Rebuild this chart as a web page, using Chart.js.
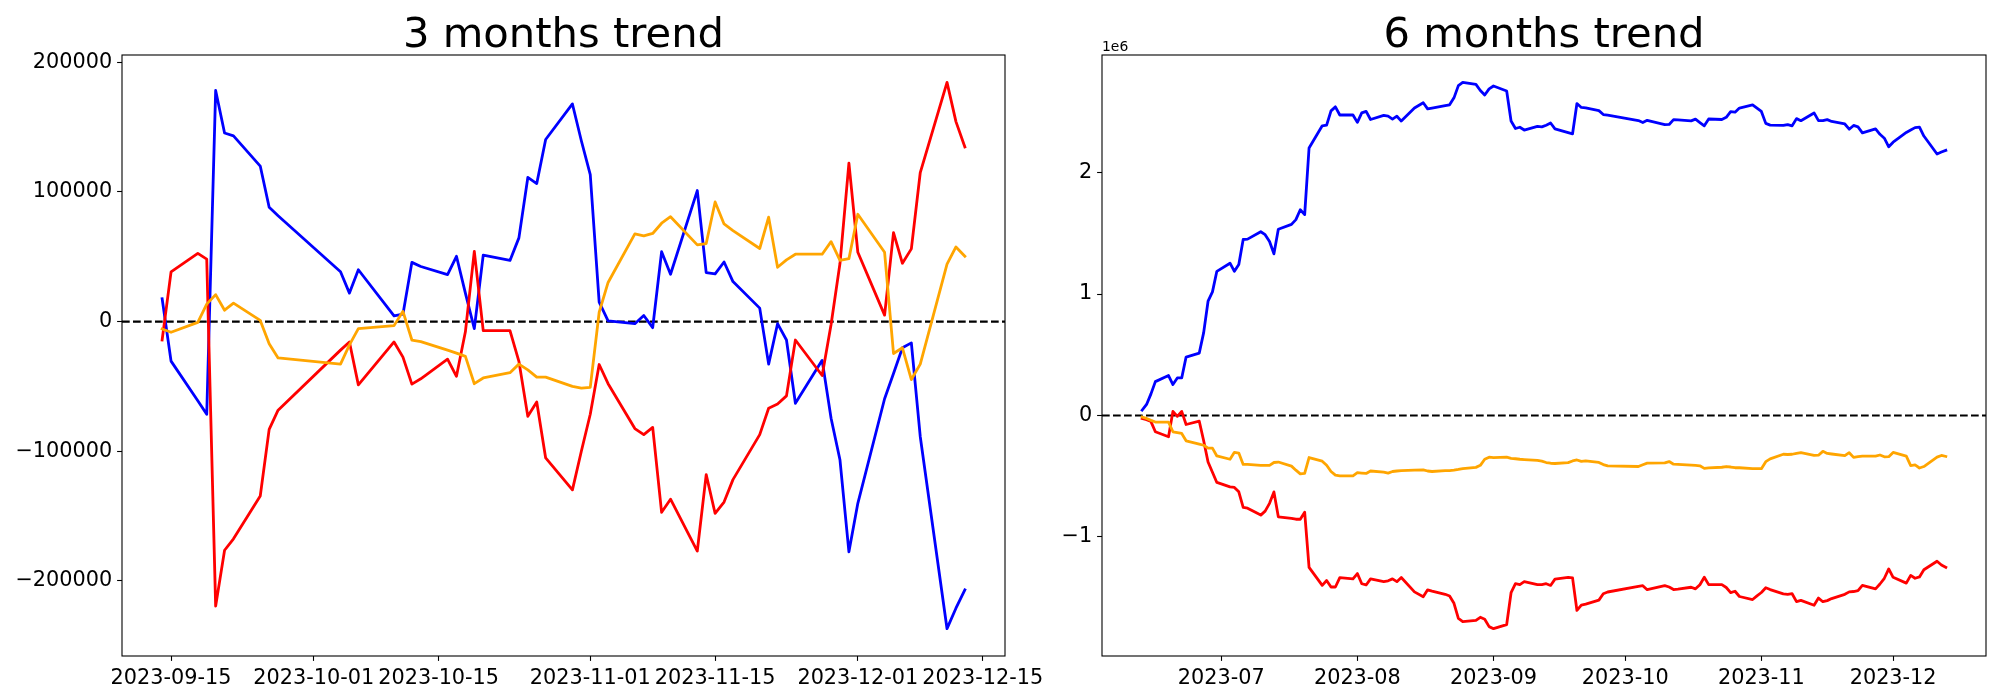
<!DOCTYPE html>
<html>
<head>
    <meta charset="utf-8">
    <title>3 / 6 months trend</title>
    <script src="https://cdn.jsdelivr.net/npm/chart.js"></script>
    <style>
        body { margin: 0; background: #ffffff; }
        .plot { position: absolute; left: 0; top: 0; }
    </style>
</head>
<body>

    <!-- two overlaid canvases, one per subplot -->
    <canvas id="chart3m" class="plot" width="2000" height="700"></canvas>
    <canvas id="chart6m" class="plot" width="2000" height="700"></canvas>

    <script>
        // ---- 3 months data ----
        const dates3 = [
            '2023-09-14', '2023-09-15', '2023-09-18', '2023-09-19', '2023-09-20', '2023-09-21', '2023-09-22', '2023-09-25', '2023-09-26', '2023-09-27',
            '2023-10-04', '2023-10-05', '2023-10-06', '2023-10-10', '2023-10-11', '2023-10-12', '2023-10-13', '2023-10-16', '2023-10-17', '2023-10-18',
            '2023-10-19', '2023-10-20', '2023-10-23', '2023-10-24', '2023-10-25', '2023-10-26', '2023-10-27', '2023-10-30', '2023-10-31',
            '2023-11-01', '2023-11-02', '2023-11-03', '2023-11-06', '2023-11-07', '2023-11-08', '2023-11-09', '2023-11-10', '2023-11-13', '2023-11-14',
            '2023-11-15', '2023-11-16', '2023-11-17', '2023-11-20', '2023-11-21', '2023-11-22', '2023-11-23', '2023-11-24', '2023-11-27', '2023-11-28',
            '2023-11-29', '2023-11-30',
            '2023-12-01', '2023-12-04', '2023-12-05', '2023-12-06', '2023-12-07', '2023-12-08', '2023-12-11', '2023-12-12', '2023-12-13'
        ];
        const blue3 = [
            17600, -30500, -61100, -71500, 178300, 145500, 143300, 120000, 88200, 81700,
            38400, 22000, 40000, 4400, 5700, 45700, 42500, 36200, 50400, 22000,
            -5400, 51300, 47200, 64600, 111200, 106500, 140500, 167900, 139500,
            113400, 15100, 600, -1600, 4700, -4700, 53900, 36500, 101100, 37800,
            36800, 46000, 30900, 10400, -32800, -1600, -14200, -63000, -29900, -74600,
            -106800, -177600,
            -140200, -59500, -40000, -20200, -16400, -88800, -236900, -221100, -206900
        ];
        const red3 = [
            -14200, 38400, 52600, 48200, -219500, -176400, -167600, -134500, -83100, -68300,
            -22000, -15700, -48800, -15700, -27400, -48200, -44100, -29000, -42200, -7900,
            54200, -6900, -6900, -30600, -73100, -62000, -105200, -129800, -100000,
            -71500, -33100, -47900, -82500, -87200, -81600, -147100, -137000, -177000, -118100,
            -148000, -139200, -121900, -87200, -66800, -63600, -57300, -14200, -41600, -2200,
            45000, 122200,
            53500, 5000, 68700, 45000, 56100, 115000, 184600, 154300, 134800
        ];
        const orange3 = [
            -5700, -8200, -600, 13500, 20800, 8800, 14200, 900, -17000, -28000,
            -32800, -18000, -5400, -3100, 7900, -14200, -15400, -22000, -24300, -26800,
            -47900, -43500, -39400, -32800, -37200, -42800, -42800, -50000, -51300,
            -50700, 7200, 30200, 67700, 66100, 68000, 75900, 80900, 59200, 60200,
            92300, 75300, 70200, 56400, 80600, 41900, 47600, 52000, 52000, 61700,
            47200, 48500,
            82800, 53500, -24600, -20200, -44700, -32800, 44400, 57600, 50400
        ];
        const xTicks3 = ['2023-09-15', '2023-10-01', '2023-10-15', '2023-11-01', '2023-11-15', '2023-12-01', '2023-12-15'];
        const yTicks3 = [-200000, -100000, 0, 100000, 200000];

        // ---- 6 months data (values in millions, axis shows 1e6) ----
        const dates6 = [
            '2023-06-13', '2023-06-14', '2023-06-15', '2023-06-16', '2023-06-19', '2023-06-20', '2023-06-21', '2023-06-22', '2023-06-23', '2023-06-26',
            '2023-06-27', '2023-06-28', '2023-06-29', '2023-06-30',
            '2023-07-03', '2023-07-04', '2023-07-05', '2023-07-06', '2023-07-07', '2023-07-10', '2023-07-11', '2023-07-12', '2023-07-13', '2023-07-14',
            '2023-07-17', '2023-07-18', '2023-07-19', '2023-07-20', '2023-07-21', '2023-07-24', '2023-07-25', '2023-07-26', '2023-07-27', '2023-07-28',
            '2023-07-31',
            '2023-08-01', '2023-08-02', '2023-08-03', '2023-08-04', '2023-08-07', '2023-08-08', '2023-08-09', '2023-08-10', '2023-08-11', '2023-08-14',
            '2023-08-16', '2023-08-17', '2023-08-18', '2023-08-21', '2023-08-22', '2023-08-23', '2023-08-24', '2023-08-25', '2023-08-28', '2023-08-29',
            '2023-08-30', '2023-08-31',
            '2023-09-01', '2023-09-04', '2023-09-05', '2023-09-06', '2023-09-07', '2023-09-08', '2023-09-11', '2023-09-12', '2023-09-13', '2023-09-14',
            '2023-09-15', '2023-09-18', '2023-09-19', '2023-09-20', '2023-09-21', '2023-09-22', '2023-09-25', '2023-09-26', '2023-09-27',
            '2023-10-04', '2023-10-05', '2023-10-06', '2023-10-10', '2023-10-11', '2023-10-12', '2023-10-13', '2023-10-16', '2023-10-17', '2023-10-18',
            '2023-10-19', '2023-10-20', '2023-10-23', '2023-10-24', '2023-10-25', '2023-10-26', '2023-10-27', '2023-10-30', '2023-10-31',
            '2023-11-01', '2023-11-02', '2023-11-03', '2023-11-06', '2023-11-07', '2023-11-08', '2023-11-09', '2023-11-10', '2023-11-13', '2023-11-14',
            '2023-11-15', '2023-11-16', '2023-11-17', '2023-11-20', '2023-11-21', '2023-11-22', '2023-11-23', '2023-11-24', '2023-11-27', '2023-11-28',
            '2023-11-29', '2023-11-30',
            '2023-12-01', '2023-12-04', '2023-12-05', '2023-12-06', '2023-12-07', '2023-12-08', '2023-12-11', '2023-12-12', '2023-12-13'
        ];
        const blue6 = [
            0.044, 0.091, 0.178, 0.279, 0.329, 0.255, 0.309, 0.309, 0.481, 0.514, 0.682, 0.941, 1.018, 1.187,
            1.254, 1.187, 1.244, 1.449, 1.452, 1.513, 1.489, 1.432, 1.331, 1.533, 1.573, 1.613, 1.694, 1.654, 2.202, 2.385, 2.390, 2.508, 2.541, 2.474, 2.474,
            2.413, 2.491, 2.504, 2.437, 2.471, 2.464, 2.440, 2.464, 2.424, 2.531, 2.575, 2.524, 2.531, 2.551, 2.558, 2.615, 2.716, 2.743, 2.726, 2.676, 2.639, 2.689,
            2.713, 2.672, 2.424, 2.363, 2.373, 2.350, 2.380, 2.376, 2.390, 2.408, 2.360, 2.329, 2.319, 2.568, 2.536, 2.533, 2.510, 2.478, 2.472,
            2.428, 2.412, 2.430, 2.394, 2.396, 2.436, 2.433, 2.426, 2.440, 2.412, 2.385, 2.441, 2.437, 2.455, 2.501, 2.497, 2.531, 2.558, 2.530,
            2.503, 2.405, 2.391, 2.388, 2.395, 2.385, 2.444, 2.427, 2.491, 2.428, 2.427, 2.436, 2.421, 2.400, 2.357, 2.388, 2.376, 2.327, 2.360, 2.315, 2.283, 2.212,
            2.250, 2.330, 2.350, 2.370, 2.374, 2.301, 2.153, 2.169, 2.183
        ];
        const red6 = [
            -0.024, -0.034, -0.050, -0.134, -0.175, 0.034, -0.007, 0.034, -0.074, -0.047, -0.208, -0.383, -0.467, -0.551,
            -0.588, -0.592, -0.628, -0.756, -0.763, -0.820, -0.787, -0.723, -0.629, -0.834, -0.847, -0.854, -0.854, -0.796, -1.250, -1.398, -1.358, -1.412, -1.412, -1.334, -1.345,
            -1.301, -1.385, -1.395, -1.345, -1.368, -1.361, -1.345, -1.368, -1.334, -1.452, -1.492, -1.435, -1.445, -1.472, -1.486, -1.546, -1.671, -1.697, -1.687, -1.661, -1.677, -1.738,
            -1.755, -1.721, -1.459, -1.385, -1.392, -1.368, -1.392, -1.392, -1.385, -1.399, -1.347, -1.332, -1.337, -1.605, -1.561, -1.553, -1.520, -1.468, -1.453,
            -1.407, -1.401, -1.434, -1.401, -1.412, -1.433, -1.429, -1.414, -1.427, -1.393, -1.331, -1.392, -1.392, -1.416, -1.458, -1.447, -1.490, -1.515, -1.485,
            -1.457, -1.418, -1.433, -1.468, -1.472, -1.467, -1.532, -1.522, -1.562, -1.503, -1.533, -1.524, -1.507, -1.472, -1.452, -1.449, -1.442, -1.399, -1.427, -1.387, -1.340, -1.263,
            -1.332, -1.380, -1.316, -1.340, -1.329, -1.270, -1.200, -1.231, -1.250
        ];
        const orange6 = [
            -0.013, -0.024, -0.040, -0.054, -0.054, -0.134, -0.141, -0.148, -0.208, -0.235, -0.245, -0.269, -0.269, -0.333,
            -0.360, -0.303, -0.309, -0.403, -0.403, -0.410, -0.410, -0.410, -0.387, -0.383, -0.417, -0.450, -0.481, -0.477, -0.346, -0.376, -0.410, -0.461, -0.491, -0.497, -0.497,
            -0.471, -0.474, -0.477, -0.457, -0.467, -0.474, -0.461, -0.457, -0.454, -0.450, -0.447, -0.457, -0.461, -0.454, -0.454, -0.450, -0.444, -0.437, -0.427, -0.410, -0.360, -0.343,
            -0.346, -0.343, -0.353, -0.356, -0.360, -0.363, -0.370, -0.376, -0.387, -0.393, -0.395, -0.388, -0.374, -0.366, -0.378, -0.373, -0.386, -0.404, -0.415,
            -0.420, -0.405, -0.392, -0.390, -0.379, -0.401, -0.402, -0.409, -0.411, -0.414, -0.435, -0.431, -0.426, -0.420, -0.424, -0.430, -0.430, -0.437, -0.438,
            -0.438, -0.380, -0.357, -0.319, -0.321, -0.319, -0.311, -0.306, -0.328, -0.327, -0.295, -0.312, -0.317, -0.331, -0.306, -0.345, -0.339, -0.335, -0.335, -0.325, -0.340, -0.339,
            -0.304, -0.334, -0.412, -0.407, -0.432, -0.420, -0.343, -0.329, -0.337
        ];
        const xTicks6 = ['2023-07', '2023-08', '2023-09', '2023-10', '2023-11', '2023-12'];
        const yTicks6 = [-1, 0, 1, 2];

        // helpers
        const FONT = 'DejaVu Sans';
        const dayNum = s => Date.UTC(+s.slice(0, 4), +s.slice(5, 7) - 1, s.length > 7 ? +s.slice(8, 10) : 1) / 86400000;
        const minus = v => String(v).replace('-', '\u2212');

        function seriesPoints(dates, values) {
            return dates.map((d, i) => ({ x: dayNum(d), y: values[i] }));
        }

        // matplotlib-like frame, title and offset text
        function framePlugin(title, offsetText) {
            return {
                id: 'frame',
                afterDraw(chart) {
                    const ctx = chart.ctx;
                    const a = chart.chartArea;
                    ctx.save();
                    ctx.strokeStyle = '#000';
                    ctx.lineWidth = 1.1;
                    ctx.strokeRect(a.left, a.top, a.right - a.left, a.bottom - a.top);
                    ctx.fillStyle = '#000';
                    ctx.textAlign = 'center';
                    ctx.textBaseline = 'alphabetic';
                    ctx.font = '41.7px "' + FONT + '"';
                    ctx.fillText(title, (a.left + a.right) / 2, a.top - 8.3);
                    if (offsetText) {
                        ctx.textAlign = 'left';
                        ctx.font = '13.9px "' + FONT + '"';
                        ctx.fillText(offsetText, a.left, a.top - 4.5);
                    }
                    ctx.restore();
                }
            };
        }

        function buildChart(canvasId, cfg) {
            const xs = cfg.dates.map(dayNum);
            const xMargin = (xs[xs.length - 1] - xs[0]) * 0.05;
            const xMin = xs[0] - xMargin;
            const xMax = xs[xs.length - 1] + xMargin;
            const all = cfg.blue.concat(cfg.red, cfg.orange);
            const lo = Math.min(...all), hi = Math.max(...all);
            const yMargin = (hi - lo) * 0.05;

            const line = (values, color) => ({
                data: seriesPoints(cfg.dates, values),
                borderColor: color,
                borderWidth: 2.8,
                pointRadius: 0,
                tension: 0,
                borderJoinStyle: 'round',
                borderCapStyle: 'square'
            });

            const tickFont = { family: FONT, size: 20.8 };
            const gridStyle = { drawOnChartArea: false, drawTicks: true, tickLength: 4.9, tickWidth: 1.1, tickColor: '#000' };

            return new Chart(document.getElementById(canvasId), {
                type: 'line',
                data: {
                    // first dataset is drawn on top, the dashed zero line sits underneath
                    datasets: [
                        line(cfg.orange, '#ffa500'),
                        line(cfg.red, '#ff0000'),
                        line(cfg.blue, '#0000ff'),
                        {
                            data: [{ x: xMin, y: 0 }, { x: xMax, y: 0 }],
                            borderColor: '#000',
                            borderWidth: 2.1,
                            borderDash: [7.7, 3.3],
                            pointRadius: 0
                        }
                    ]
                },
                options: {
                    responsive: false,
                    animation: false,
                    devicePixelRatio: 1,
                    layout: { padding: cfg.padding },
                    plugins: { legend: { display: false }, tooltip: { enabled: false } },
                    scales: {
                        x: {
                            type: 'linear',
                            min: xMin,
                            max: xMax,
                            afterBuildTicks: s => { s.ticks = cfg.xTicks.map(t => ({ value: dayNum(t) })); },
                            afterFit: s => { s.height = 44; },
                            ticks: {
                                autoSkip: false, maxRotation: 0, minRotation: 0, padding: 4.9,
                                color: '#000', font: tickFont,
                                callback: (v, i) => cfg.xTicks[i]
                            },
                            grid: gridStyle,
                            border: { display: false }
                        },
                        y: {
                            type: 'linear',
                            min: lo - yMargin,
                            max: hi + yMargin,
                            afterBuildTicks: s => { s.ticks = cfg.yTicks.map(v => ({ value: v })); },
                            afterFit: s => { s.width = cfg.yWidth; },
                            ticks: {
                                padding: 4.9, color: '#000', font: tickFont,
                                callback: (v, i) => minus(cfg.yTicks[i])
                            },
                            grid: gridStyle,
                            border: { display: false }
                        }
                    }
                },
                plugins: [framePlugin(cfg.title, cfg.offsetText)]
            });
        }

        buildChart('chart3m', {
            title: '3 months trend',
            dates: dates3, blue: blue3, red: red3, orange: orange3,
            xTicks: xTicks3, yTicks: yTicks3,
            padding: { left: 0, top: 55, right: 995, bottom: 0 },
            yWidth: 122
        });

        buildChart('chart6m', {
            title: '6 months trend',
            offsetText: '1e6',
            dates: dates6, blue: blue6, red: red6, orange: orange6,
            xTicks: xTicks6, yTicks: yTicks6,
            padding: { left: 1000, top: 55, right: 14, bottom: 0 },
            yWidth: 102
        });
    </script>

</body>
</html>
